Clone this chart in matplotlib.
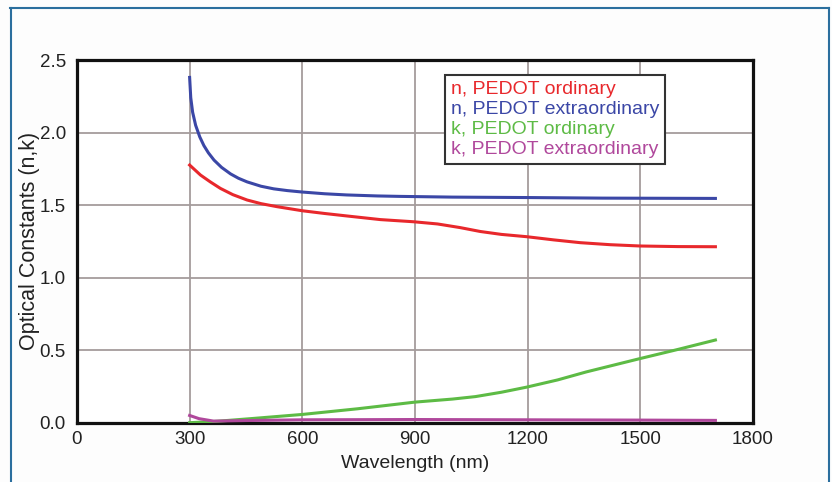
import matplotlib.pyplot as plt
from matplotlib.lines import Line2D

plt.rcParams['font.family'] = ['Liberation Sans', 'DejaVu Sans']

# values
wl_n_ext = [300, 303, 308, 316, 327, 338, 350, 365, 385, 409, 430, 453, 490, 524, 560,
            600, 660, 718, 800, 860, 1000, 1200, 1400, 1700]
n_ext = [2.38, 2.24, 2.14, 2.05, 1.97, 1.91, 1.86, 1.81, 1.76, 1.715, 1.685, 1.66, 1.63, 1.612, 1.60,
         1.59, 1.578, 1.57, 1.563, 1.56, 1.555, 1.552, 1.548, 1.546]

wl_n_ord = [300, 329, 355, 382, 415, 453, 490, 533, 600, 660, 719, 808, 897, 960,
            1020, 1074, 1130, 1198, 1270, 1340, 1420, 1500, 1600, 1700]
n_ord = [1.776, 1.707, 1.66, 1.615, 1.572, 1.535, 1.51, 1.489, 1.461, 1.442, 1.425, 1.40, 1.385, 1.37,
         1.345, 1.318, 1.298, 1.282, 1.26, 1.241, 1.227, 1.218, 1.214, 1.213]

wl_k_ord = [300, 374, 472, 600, 747, 900, 1000, 1061, 1130, 1197, 1280, 1356, 1496, 1600, 1700]
k_ord = [0.0, 0.01, 0.03, 0.057, 0.096, 0.142, 0.163, 0.18, 0.21, 0.245, 0.295, 0.35, 0.44, 0.505, 0.57]

wl_k_ext = [300, 325, 364, 450, 600, 900, 1200, 1500, 1700]
k_ext = [0.05, 0.028, 0.011, 0.015, 0.02, 0.022, 0.02, 0.018, 0.016]

labels = ['n, PEDOT ordinary', 'n, PEDOT extraordinary',
          'k, PEDOT ordinary', 'k, PEDOT extraordinary']
colors = ['#e8282c', '#3b47a6', '#5dbb45', '#b0489c']

fig = plt.figure(figsize=(8.32, 4.82), dpi=100)
fig.patch.set_facecolor('#fdfdfd')
ax = fig.add_axes([0.0925, 0.123, 0.8125, 0.7525])

ax.plot(wl_n_ord, n_ord, color=colors[0], lw=2.2, label=labels[0], zorder=3)
ax.plot(wl_n_ext, n_ext, color=colors[1], lw=2.2, label=labels[1], zorder=3)
ax.plot(wl_k_ord, k_ord, color=colors[2], lw=2.2, label=labels[2], zorder=3)
ax.plot(wl_k_ext, k_ext, color=colors[3], lw=2.2, label=labels[3], zorder=3)

ax.set_xlim(0, 1800)
ax.set_ylim(0, 2.5)
ax.set_xticks([0, 300, 600, 900, 1200, 1500, 1800])
ax.set_yticks([0.0, 0.5, 1.0, 1.5, 2.0, 2.5])
ax.set_yticklabels(['0.0', '0.5', '1.0', '1.5', '2.0', '2.5'])
ax.grid(True, color='#a59c9c', lw=1.3)
ax.set_axisbelow(True)
ax.tick_params(length=0, labelsize=13.5, colors='#222222')
ax.tick_params(axis='y', pad=8)
ax.tick_params(axis='x', pad=6)
for s in ax.spines.values():
    s.set_linewidth(2.3)
    s.set_color('#111111')

ax.set_xlabel('Wavelength (nm)', fontsize=14, color='#222222', labelpad=5)
ax.set_ylabel('Optical Constants (n,k)', fontsize=15.5, color='#222222', labelpad=0)

leg = ax.legend(handlelength=0, handletextpad=0, fontsize=14, loc='upper left',
                bbox_to_anchor=(0.544, 0.959), borderaxespad=0, fancybox=False,
                edgecolor='#333333', framealpha=1, borderpad=0.3, labelspacing=0.12)
leg.get_frame().set_linewidth(1.5)
for txt, c in zip(leg.get_texts(), colors):
    txt.set_color(c)
for h in leg.legend_handles:
    h.set_visible(False)

# blue frame around the figure
fc = '#2b6f9e'
fig.add_artist(Line2D([10 / 832, 829 / 832], [1 - 7.5 / 482] * 2, color=fc, lw=1.5, transform=fig.transFigure))
fig.add_artist(Line2D([10.5 / 832] * 2, [0, 1 - 7.5 / 482], color=fc, lw=1.5, transform=fig.transFigure))
fig.add_artist(Line2D([828.5 / 832] * 2, [0, 1 - 7.5 / 482], color=fc, lw=1.5, transform=fig.transFigure))

fig.savefig('out.png', dpi=100, facecolor=fig.get_facecolor())
